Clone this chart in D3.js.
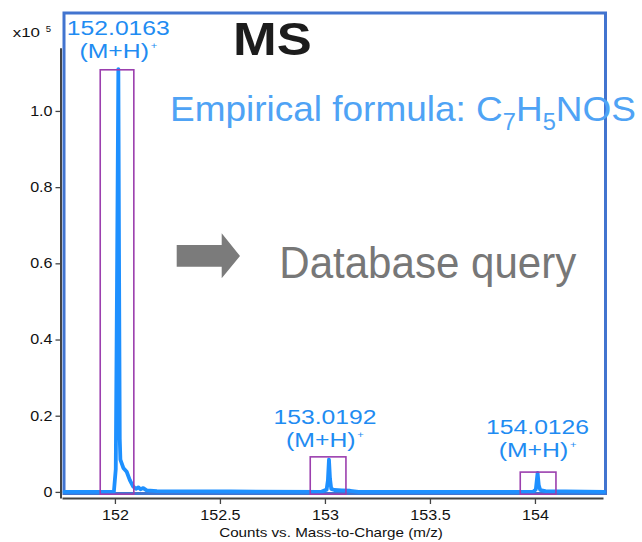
<!DOCTYPE html>
<html>
<head>
<meta charset="utf-8">
<script src="https://cdn.jsdelivr.net/npm/d3@7/dist/d3.min.js"></script>
<style>
  html, body { margin: 0; padding: 0; background: #fff; }
  svg { display: block; }
  text { font-family: Arial, "Liberation Sans", sans-serif; }
</style>
</head>
<body>
<svg id="chart" width="642" height="542"></svg>
<script>
// Mass spectrum, intensity in units of 10^5 counts
const mz = [151.76, 151.995, 152.004, 152.010, 152.0163, 152.020, 152.023, 152.026, 152.040, 152.056,
            152.071, 152.087, 152.100, 152.111, 152.122, 152.135, 152.151, 152.20, 152.55,
            152.98, 153.008, 153.014, 153.0192, 153.024, 153.030, 153.045, 153.08, 153.12, 153.16,
            153.99, 154.004, 154.0126, 154.018, 154.025, 154.05, 154.33];
const intensity = [0, 0, 0.06, 0.55, 1.11, 0.55, 0.14, 0.085, 0.063, 0.053,
                   0.031, 0.014, 0.008, 0.012, 0.007, 0.010, 0.004, 0.002, 0.001,
                   0, 0.006, 0.03, 0.085, 0.035, 0.008, 0.005, 0.004, 0.003, 0,
                   0, 0.006, 0.05, 0.018, 0.005, 0.002, 0];

// Annotated isotope peaks and their selection windows
const peakMz = [152.0163, 153.0192, 154.0126];
const peakLabels = ["152.0163", "153.0192", "154.0126"];
const ionLabel = "(M+H)";
const ionCharge = "+";
const boxLo = [151.93, 152.93, 153.93];
const boxHi = [152.09, 153.10, 154.10];
const boxTop = [1.108, 0.092, 0.052];
const boxBottom = -0.006;

// Axis ticks
const yTicks = [0, 0.2, 0.4, 0.6, 0.8, 1.0];
const yTickLabels = ["0", "0.2", "0.4", "0.6", "0.8", "1.0"];
const xTicks = [152, 152.5, 153, 153.5, 154];
const xTickLabels = ["152", "152.5", "153", "153.5", "154"];
const xTitle = "Counts vs. Mass-to-Charge (m/z)";

// Label layout (pixel offsets above each box, horizontal nudge)
const ionGap = [12, 10, 15.5];
const labelDx = [0, -4, 0];
const lineGap = 23;

const svg = d3.select("#chart");
const x = d3.scaleLinear().domain([151.748, 154.324]).range([62, 603]);
const y = d3.scaleLinear().domain([-0.016, 1.166]).range([498, 47.7]);

// Horizontally stretch a text element about an anchor x
function stretch(sel, sx, ax) {
  sel.attr("transform", `translate(${ax},0) scale(${sx},1) translate(${-ax},0)`);
}
function fitWidth(sel, target, ax) {
  const w = sel.node().getBBox().width;
  stretch(sel, target / w, ax);
}
const chartStretch = 1.15;

// Outer frame
svg.append("rect")
  .attr("x", 64).attr("y", 13)
  .attr("width", 541.5).attr("height", 480.5)
  .attr("fill", "none")
  .attr("stroke", "#4274cf")
  .attr("stroke-width", 3);

// Axes
const yAxis = d3.axisLeft(y)
  .tickValues(yTicks)
  .tickFormat((d, i) => yTickLabels[i])
  .tickSize(5).tickSizeOuter(0).tickPadding(3);
const gy = svg.append("g").attr("transform", "translate(60.5,0)").call(yAxis);

const xAxis = d3.axisBottom(x)
  .tickValues(xTicks)
  .tickFormat((d, i) => xTickLabels[i])
  .tickSize(6).tickSizeOuter(0).tickPadding(6);
const gx = svg.append("g").attr("transform", "translate(0,498)").call(xAxis);

[gx, gy].forEach(g => {
  g.select(".domain").attr("stroke", "#444").attr("stroke-width", 2);
  g.selectAll(".tick line").attr("stroke", "#444").attr("stroke-width", 1.3);
  g.selectAll(".tick text")
    .attr("fill", "#111")
    .style("font-family", 'Arial, "Liberation Sans", sans-serif')
    .style("font-size", "14px");
});
gy.selectAll(".tick text").each(function () { stretch(d3.select(this), chartStretch, -8); });
gx.selectAll(".tick text").each(function () { stretch(d3.select(this), chartStretch, 0); });

// Axis title
const xt = svg.append("text")
  .attr("x", 331).attr("y", 537)
  .attr("text-anchor", "middle")
  .attr("font-size", 13).attr("fill", "#111")
  .text(xTitle);
stretch(xt, 1.17, 331);

// Scale exponent
const ex = svg.append("text").attr("x", 12.7).attr("y", 37.3)
  .attr("font-size", 13.5).attr("fill", "#111").text("x10");
fitWidth(ex, 27.3, 12.7);
svg.append("text").attr("x", 45.7).attr("y", 31.7)
  .attr("font-size", 9.5).attr("fill", "#111").text("5");

// Spectrum trace
const line = d3.line()
  .x((d, i) => x(mz[i]))
  .y((d, i) => y(intensity[i]));
svg.append("path")
  .datum(intensity)
  .attr("d", line)
  .attr("fill", "none")
  .attr("stroke", "#1e90ff")
  .attr("stroke-width", 3.8)
  .attr("stroke-linejoin", "round")
  .attr("stroke-linecap", "round");

// Selection windows around each isotope peak
svg.selectAll("rect.win")
  .data(peakMz)
  .join("rect")
  .attr("class", "win")
  .attr("x", (d, i) => x(boxLo[i]))
  .attr("width", (d, i) => x(boxHi[i]) - x(boxLo[i]))
  .attr("y", (d, i) => y(boxTop[i]))
  .attr("height", (d, i) => y(boxBottom) - y(boxTop[i]))
  .attr("fill", "none")
  .attr("stroke", "#9b3fae")
  .attr("stroke-width", 1.6);

// Peak labels: accurate mass and ion type
peakMz.forEach((m, i) => {
  const cx = x(m) + labelDx[i];
  const ionY = y(boxTop[i]) - ionGap[i];
  const num = svg.append("text")
    .attr("x", cx).attr("y", ionY - lineGap)
    .attr("text-anchor", "middle")
    .attr("font-size", 21).attr("fill", "#1f8cf2")
    .text(peakLabels[i]);
  fitWidth(num, 103, cx);
  const ion = svg.append("text")
    .attr("x", cx).attr("y", ionY)
    .attr("text-anchor", "middle")
    .attr("font-size", 21).attr("fill", "#1f8cf2");
  ion.append("tspan").text(ionLabel);
  ion.append("tspan").attr("dx", 1.5).attr("dy", -9).attr("font-size", 9.5).text(ionCharge);
  fitWidth(ion, 78.4, cx);
});

// Panel title
const ms = svg.append("text")
  .attr("x", 233).attr("y", 55)
  .attr("font-size", 46).attr("font-weight", "bold").attr("fill", "#1c1c1c")
  .text("MS");
fitWidth(ms, 78.7, 233);

// Empirical formula annotation
const ef = svg.append("text")
  .attr("x", 170).attr("y", 120.7)
  .attr("font-size", 36).attr("fill", "#4fa3f5");
ef.append("tspan").text("Empirical formula: C");
ef.append("tspan").attr("font-size", 23).attr("dy", 9.3).text("7");
ef.append("tspan").attr("dy", -9.3).text("H");
ef.append("tspan").attr("font-size", 23).attr("dy", 9.3).text("5");
ef.append("tspan").attr("dy", -9.3).text("NOS");
fitWidth(ef, 466, 170);

// Arrow and next step
svg.append("polygon")
  .attr("points", "176.7,245 221.7,245 221.7,233.3 240,256 221.7,278.3 221.7,266.7 176.7,266.7")
  .attr("fill", "#7b7b7b");
const dq = svg.append("text")
  .attr("x", 279.3).attr("y", 278)
  .attr("font-size", 44).attr("fill", "#777")
  .text("Database query");
fitWidth(dq, 297, 279.3);
</script>
</body>
</html>
